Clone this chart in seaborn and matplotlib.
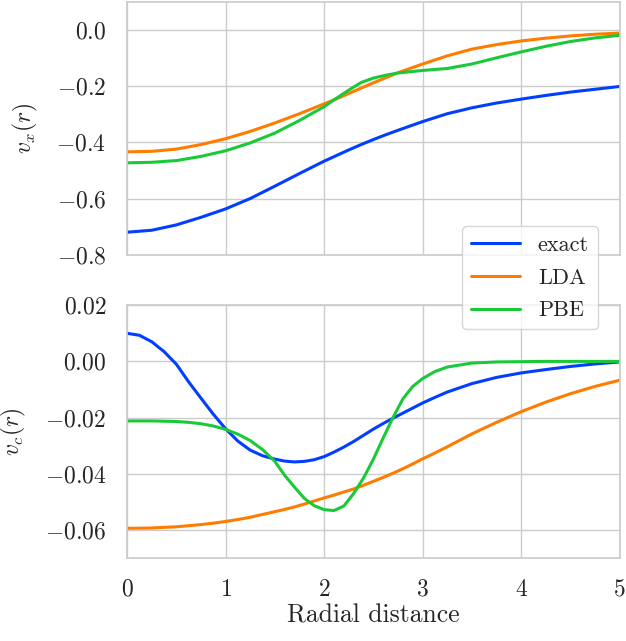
import numpy as np
import matplotlib
matplotlib.use("Agg")
import matplotlib.pyplot as plt
import seaborn as sns

# exchange potential
r_top = [0, 0.25, 0.5, 0.75, 1, 1.25, 1.5, 1.75, 2, 2.125, 2.25, 2.375, 2.5,
         2.625, 2.75, 3, 3.25, 3.5, 3.75, 4, 4.25, 4.5, 4.75, 5]
vx_exact = [-0.720, -0.713, -0.694, -0.667, -0.637, -0.600, -0.556, -0.511,
            -0.467, -0.447, -0.427, -0.408, -0.390, -0.373, -0.357, -0.326,
            -0.298, -0.277, -0.260, -0.246, -0.233, -0.221, -0.211, -0.201]
vx_lda = [-0.434, -0.432, -0.424, -0.408, -0.387, -0.361, -0.331, -0.298,
          -0.263, -0.245, -0.226, -0.207, -0.188, -0.170, -0.152, -0.121,
          -0.092, -0.068, -0.052, -0.039, -0.029, -0.021, -0.015, -0.011]
vx_pbe = [-0.473, -0.471, -0.465, -0.450, -0.430, -0.402, -0.367, -0.322,
          -0.273, -0.243, -0.214, -0.187, -0.171, -0.161, -0.153, -0.144,
          -0.137, -0.121, -0.099, -0.078, -0.058, -0.041, -0.028, -0.019]

# correlation potential
r_bot = [0, 0.125, 0.25, 0.375, 0.5, 0.625, 0.75, 0.875, 1, 1.125, 1.25,
         1.375, 1.5, 1.6, 1.7, 1.8, 1.9, 2.0, 2.1, 2.2, 2.3, 2.4, 2.5, 2.6,
         2.7, 2.8, 2.9, 3.0, 3.125, 3.25, 3.5, 3.75, 4, 4.25, 4.5, 4.75, 5]
vc_exact = [0.0100, 0.0093, 0.0070, 0.0035, -0.0010, -0.0073, -0.0131,
            -0.0188, -0.0240, -0.0284, -0.0316, -0.0336, -0.0348, -0.0355,
            -0.0358, -0.0356, -0.0350, -0.0339, -0.0323, -0.0305, -0.0285,
            -0.0263, -0.0241, -0.0221, -0.0202, -0.0184, -0.0166, -0.0148,
            -0.0128, -0.0109, -0.0079, -0.0057, -0.0041, -0.0029, -0.0018,
            -0.0009, -0.0002]
vc_lda = [-0.0594, -0.0594, -0.0593, -0.0591, -0.0589, -0.0585, -0.0581,
          -0.0576, -0.0570, -0.0563, -0.0555, -0.0545, -0.0535, -0.0527,
          -0.0518, -0.0508, -0.0497, -0.0486, -0.0476, -0.0465, -0.0454,
          -0.0441, -0.0427, -0.0413, -0.0398, -0.0382, -0.0365, -0.0347,
          -0.0326, -0.0304, -0.0258, -0.0217, -0.0179, -0.0145, -0.0115,
          -0.0089, -0.0067]
vc_pbe = [-0.0212, -0.0212, -0.0212, -0.0213, -0.0214, -0.0217, -0.0222,
          -0.0230, -0.0242, -0.0259, -0.0282, -0.0314, -0.0356, -0.0406,
          -0.0448, -0.0488, -0.0514, -0.0528, -0.0531, -0.0515, -0.0470,
          -0.0415, -0.0348, -0.0272, -0.0199, -0.0133, -0.0089, -0.0061,
          -0.0036, -0.0020, -0.0006, -0.0002, -0.0001, 0.0, 0.0, 0.0, 0.0]

labels = ["exact", "LDA", "PBE"]

sns.set_theme(style="whitegrid", palette="bright")
plt.rcParams["font.family"] = ["cmr10", "DejaVu Serif"]
plt.rcParams["mathtext.fontset"] = "cm"
plt.rcParams["axes.formatter.use_mathtext"] = True

colors = sns.color_palette("bright", 3)

fig, (ax1, ax2) = plt.subplots(2, 1, figsize=(6.26, 6.41), dpi=100, sharex=True)
fig.subplots_adjust(left=0.203, right=0.990, top=0.997, bottom=0.1295, hspace=0.2)

for ys, lab, c in zip([vx_exact, vx_lda, vx_pbe], labels, colors):
    sns.lineplot(x=r_top, y=ys, ax=ax1, color=c, lw=2.2, label=lab, legend=False)
for ys, lab, c in zip([vc_exact, vc_lda, vc_pbe], labels, colors):
    sns.lineplot(x=r_bot, y=ys, ax=ax2, color=c, lw=2.2, legend=False)

ax1.set_xlim(0, 5)
ax1.set_ylim(-0.8, 0.1)
ax1.set_yticks([-0.8, -0.6, -0.4, -0.2, 0.0])
ax2.set_ylim(-0.07, 0.02)
ax2.set_yticks([-0.06, -0.04, -0.02, 0.0, 0.02])
ax2.set_xticks([0, 1, 2, 3, 4, 5])

ax1.set_ylabel(r"$v_x(r)$", fontsize=17, labelpad=12)
ax2.set_ylabel(r"$v_c(r)$", fontsize=17, labelpad=12)
ax2.set_xlabel("Radial distance", fontsize=18.5, labelpad=2)
for ax in (ax1, ax2):
    ax.tick_params(labelsize=17, pad=9)

handles, _ = ax1.get_legend_handles_labels()
fig.legend(handles, labels, loc="upper right", bbox_to_anchor=(0.955, 0.647),
           borderaxespad=0, fontsize=16, labelspacing=0.6, handlelength=2.2)

fig.savefig("out.png", dpi=100)
